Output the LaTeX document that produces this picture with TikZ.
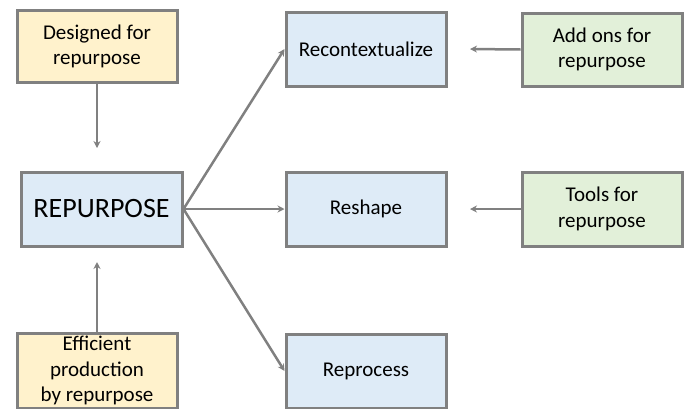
\documentclass[tikz,border=0pt]{standalone}
\usepackage{fontspec}
\setmainfont{Carlito}
\usetikzlibrary{arrows.meta}
\definecolor{edgegray}{RGB}{128,128,128}
\definecolor{yelfill}{RGB}{255,242,204}
\definecolor{bluefill}{RGB}{222,235,247}
\definecolor{grnfill}{RGB}{226,240,217}
\begin{document}
\begin{tikzpicture}[x=1pt,y=-1pt,
  box/.style={draw=edgegray,line width=3pt,rectangle,minimum width=160pt,minimum height=74pt,
    align=center,inner sep=2pt,font=\fontsize{21}{25.5}\selectfont},
  ybox/.style={box,fill=yelfill},
  bbox/.style={box,fill=bluefill},
  gbox/.style={box,fill=grnfill},
  conn/.style={draw=edgegray,line width=2.5pt,-{Stealth[length=7pt,width=7pt]}}]
\useasboundingbox (0,0) rectangle (687,408);
\node[ybox,minimum height=72pt] (des) at (97,46.5) {Designed for\\repurpose};
\node[bbox,minimum width=161pt,font=\fontsize{28}{32}\selectfont] (rep) at (101.5,209) {REPURPOSE};
\node[ybox,minimum height=75pt] (eff) at (97,370.5) {Efficient\\production\\by repurpose};
\node[bbox] (rec) at (366,49) {Recontextualize};
\node[bbox] (res) at (366,209) {Reshape};
\node[bbox] (pro) at (366,371) {Reprocess};
\node[gbox,minimum height=73pt] (add) at (602,49.5) {Add ons for\\repurpose};
\node[gbox] (tool) at (602,209) {Tools for\\repurpose};
\coordinate (desend) at (97,148);
\coordinate (effend) at (97,262);
\coordinate (addend) at (470,49);
\coordinate (toolend) at (470,209);
\draw[conn] (des.south) -- (desend);
\draw[conn] (eff.north) -- (effend);
\draw[conn] (add.west) -- (addend);
\draw[conn] (tool.west) -- (toolend);
\draw[conn] (rep.east) -- (rec.west);
\draw[conn] (rep.east) -- (res.west);
\draw[conn] (rep.east) -- (pro.west);
\end{tikzpicture}
\end{document}
